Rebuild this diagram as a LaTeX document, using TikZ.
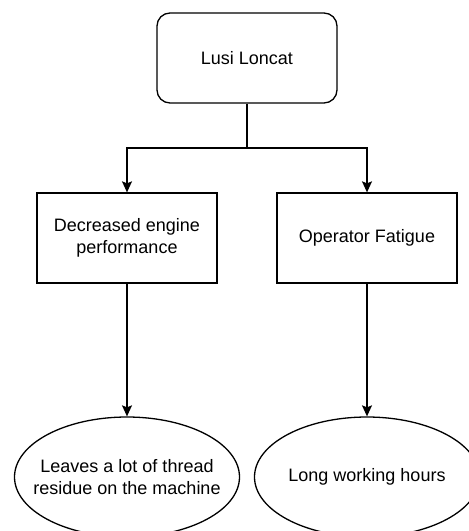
\documentclass[tikz,border=0pt]{standalone}
\usepackage{fontspec}
\setmainfont{Liberation Sans}
\usetikzlibrary{arrows.meta,shapes.geometric}
\begin{document}
\begin{tikzpicture}[x=1pt,y=-1pt,
  every node/.style={font=\fontsize{18}{21.6}\selectfont, align=center, inner sep=0pt},
  box/.style={draw, line width=1.3pt, minimum width=180pt, minimum height=90pt},
  rbox/.style={box, rounded corners=13pt},
  oval/.style={draw, line width=1.3pt, ellipse, inner xsep=-30pt, minimum width=225pt, minimum height=120pt},
  conn/.style={line width=1.3pt, -{Stealth[length=11pt,width=10pt,inset=2pt]}}]
\useasboundingbox (0,0) rectangle (469,531);
\clip (0,0) rectangle (469,531);
\node[rbox] (top) at (247,58) {Lusi Loncat};
\node[box] (dec) at (127,238) {Decreased engine\\performance};
\node[box] (op) at (367,238) {Operator Fatigue};
\node[oval] (res) at (127,477) {Leaves a lot of thread\\residue on the machine};
\node[oval] (long) at (367,477) {Long working hours};
\coordinate (split) at (247,148);
\draw[conn] (top.south) -- (split) -| (dec.north);
\draw[conn] (split) -| (op.north);
\draw[conn] (dec.south) -- (res.north);
\draw[conn] (op.south) -- (long.north);
\end{tikzpicture}
\end{document}
